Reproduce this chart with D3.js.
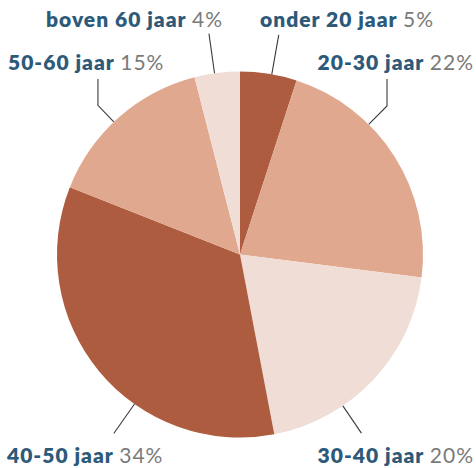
<!DOCTYPE html>
<html>
<head>
<meta charset="utf-8">
<script src="https://cdn.jsdelivr.net/npm/d3@7"></script>
<style>
  html, body { margin: 0; padding: 0; background: #fff; }
  svg { display: block; }
</style>
</head>
<body>
<div id="chart"></div>
<script>
// leeftijdsverdeling, pie chart in d3

const categories = ["onder 20 jaar", "20-30 jaar", "30-40 jaar", "40-50 jaar", "50-60 jaar", "boven 60 jaar"];
const values = [5, 22, 20, 34, 15, 4];
const valueLabels = ["5%", "22%", "20%", "34%", "15%", "4%"];

let dark = "#AE5C40";
let mid = "#E1A890";
let light = "#F0DDD5";
let navy = "#2E5A7A";
let grey = "#7a7a7a";

const colours = [dark, mid, light, dark, mid, light];

const width = 476;
const height = 468;
const cx = 240;
const cy = 254.5;
const radius = 183;

// where each label line leaves the pie (degrees, clockwise from top) and how the label sits
const layout = [
  { angle: 10, len: 40, elbow: null, x: 260, y: 27, anchor: "start" },
  { angle: 44.7, len: 26, elbow: 79, x: 474, y: 70, anchor: "end" },
  { angle: 145.8, len: 33, elbow: null, x: 474, y: 463, anchor: "end" },
  { angle: 215.2, len: 36, elbow: null, x: 7, y: 463, anchor: "start" },
  { angle: 316.4, len: 23, elbow: 79, x: 8, y: 70, anchor: "start" },
  { angle: -8, len: 40, elbow: null, x: 223, y: 27, anchor: "end" }
];

const svg = d3
  .select("#chart")
  .append("svg")
  .attr("width", width)
  .attr("height", height);

const pie = d3.pie().sort(null).value((d) => d);
const arc = d3.arc().innerRadius(0).outerRadius(radius);

const g = svg.append("g").attr("transform", `translate(${cx},${cy})`);

g.selectAll("path")
  .data(pie(values))
  .join("path")
  .attr("d", arc)
  .attr("fill", (d, i) => colours[i]);

// label lines
const lines = svg.append("g");
layout.forEach((l) => {
  let a = (l.angle * Math.PI) / 180;
  let p0 = d3.pointRadial(a, radius);
  let p1 = d3.pointRadial(a, radius + l.len);
  let pts = [
    [cx + p0[0], cy + p0[1]],
    [cx + p1[0], cy + p1[1]]
  ];
  if (l.elbow != null) pts.push([cx + p1[0], l.elbow]);
  lines
    .append("path")
    .attr("d", d3.line()(pts))
    .attr("fill", "none")
    .attr("stroke", "#3a3a3a")
    .attr("stroke-width", 1.1);
});

// labels
svg
  .append("g")
  .selectAll("text")
  .data(categories)
  .join("text")
  .attr("x", (d, i) => layout[i].x)
  .attr("y", (d, i) => layout[i].y)
  .attr("text-anchor", (d, i) => layout[i].anchor)
  .style("font-family", "Lato, 'Open Sans', sans-serif")
  .style("font-size", "21px")
  .style("letter-spacing", "1px")
  .each(function (d, i) {
    let t = d3.select(this);
    t.append("tspan")
      .attr("font-weight", 800)
      .attr("fill", navy)
      .text(d + " ");
    t.append("tspan")
      .attr("font-weight", 400)
      .attr("fill", grey)
      .text(valueLabels[i]);
  });
</script>
</body>
</html>
